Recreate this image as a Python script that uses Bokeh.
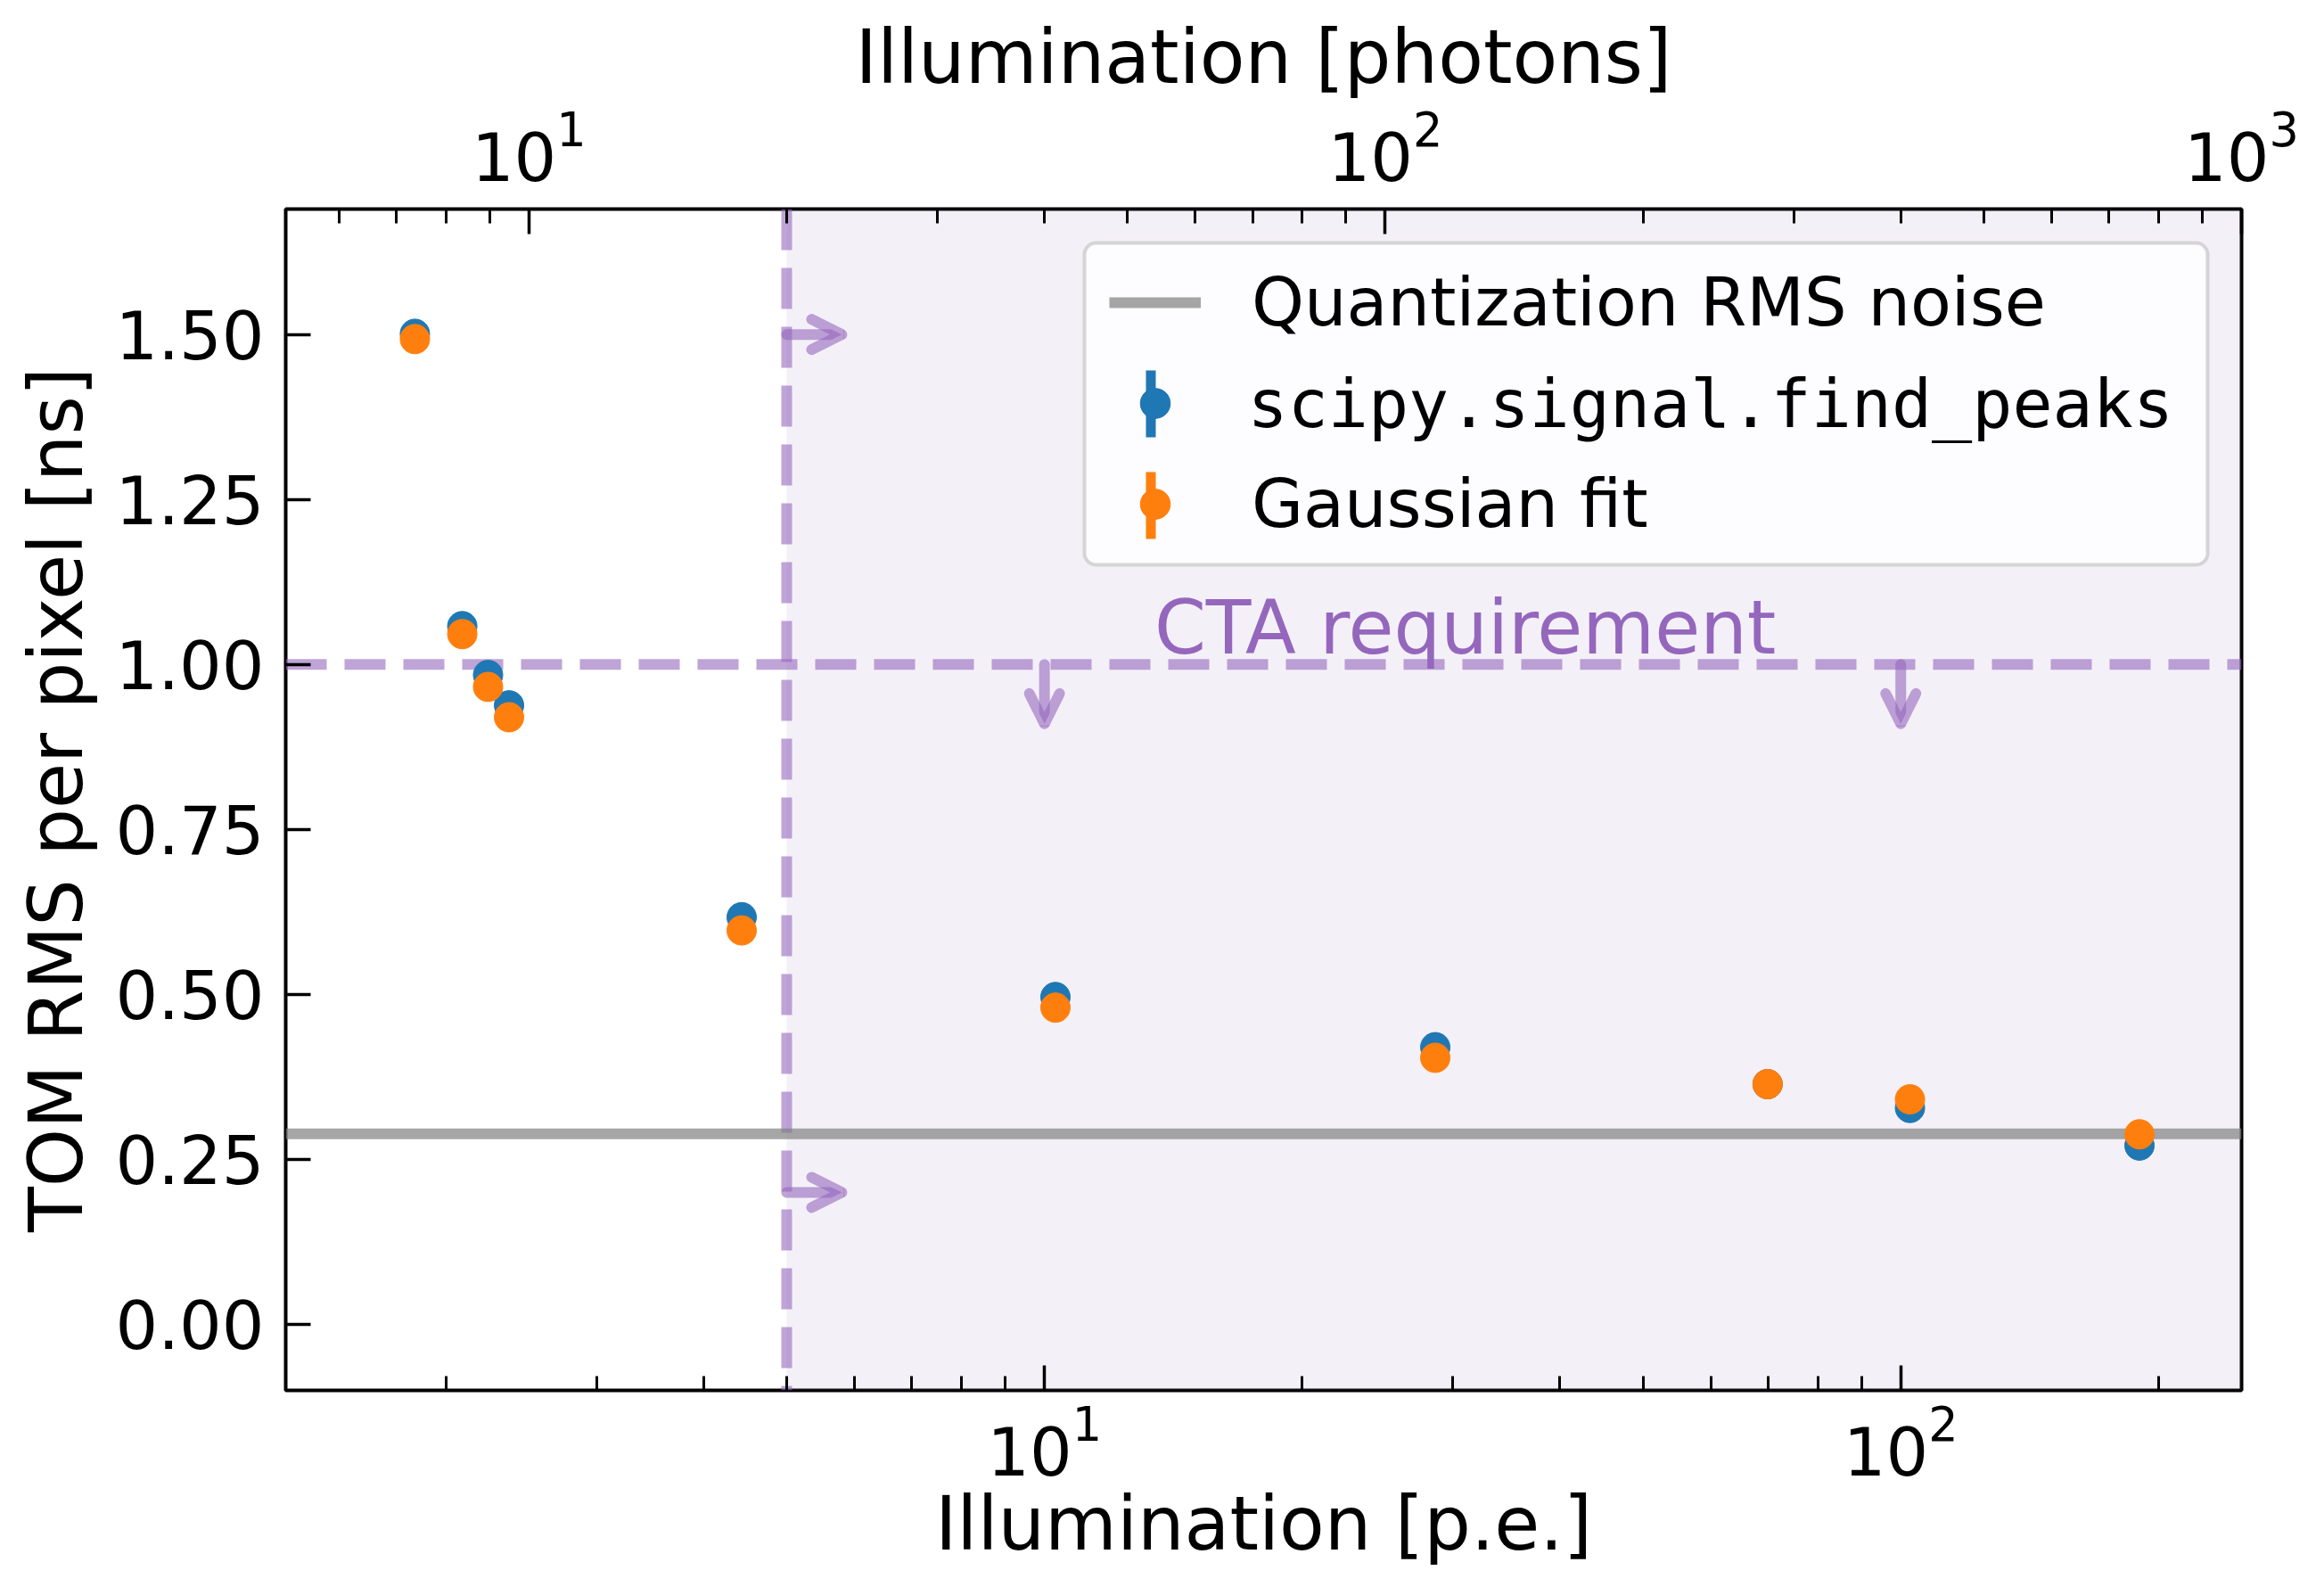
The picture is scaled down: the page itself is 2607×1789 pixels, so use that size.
import numpy as np
from bokeh.plotting import figure
from bokeh.models import (Range1d, LogScale, LogAxis, FixedTicker, NumeralTickFormatter,
                          Span, BoxAnnotation, Label, Arrow, OpenHead, Legend, LegendItem)
from bokeh.embed import file_html
from bokeh.resources import INLINE

# ---------------- data ----------------
illumination_pe = [1.84, 2.09, 2.24, 2.37, 4.43, 10.3, 28.6, 69.9, 102.5, 190.0]
rms_find_peaks = [1.501, 1.058, 0.984, 0.938, 0.617, 0.496, 0.420, 0.364, 0.328, 0.271]
rms_gauss_fit = [1.493, 1.046, 0.966, 0.920, 0.597, 0.480, 0.404, 0.364, 0.341, 0.288]
quantization_noise = 1.0 / np.sqrt(12.0)
cta_requirement = 1.0
pe_threshold = 5.0
photons_per_pe = 4.0

x_lo, x_hi = 1.3, 250.0
y_lo, y_hi = -0.1, 1.69
y_ticks = [0.0, 0.25, 0.5, 0.75, 1.0, 1.25, 1.5]
pe_major = [10, 100]
pe_minor = [2, 3, 4, 5, 6, 7, 8, 9, 20, 30, 40, 50, 60, 70, 80, 90, 200]
ph_major = [10, 100, 1000]
ph_minor = [6, 7, 8, 9, 20, 30, 40, 50, 60, 70, 80, 90, 200, 300, 400, 500, 600, 700, 800, 900]

# arrows / annotations (data positions)
right_arrow_y = [1.5, 0.2]
right_arrow_end = 5.8
down_arrow_x = [10.0, 100.0]
down_arrow_end = 0.91
cta_text_x, cta_text_y = 31.0, 1.055

BLUE = "#1f77b4"
ORANGE = "#ff7f0e"
PURPLE = "#9467bd"

# ---------------- layout ----------------
W, H = 2591, 1773
FL, FR, FT, FB = 320, 77, 234, 214
frame_w = W - FL - FR
frame_h = H - FT - FB

p = figure(width=W, height=H, x_axis_type="log",
           x_range=Range1d(x_lo, x_hi), y_range=Range1d(y_lo, y_hi),
           output_backend="svg", toolbar_location=None,
           min_border_left=FL, min_border_right=FR, min_border_top=FT, min_border_bottom=FB)
p.grid.visible = False
p.outline_line_color = "black"
p.outline_line_width = 4
p.outline_line_alpha = 1.0
p.background_fill_color = "white"
p.border_fill_color = "white"

p.extra_x_ranges = {"ph": Range1d(x_lo * photons_per_pe, x_hi * photons_per_pe)}
p.extra_x_scales = {"ph": LogScale()}
top_axis = LogAxis(x_range_name="ph", axis_label="Illumination [photons]")
p.add_layout(top_axis, "above")

bottom_axis = p.below[0]
bottom_axis.axis_label = "Illumination [p.e.]"
bottom_axis.ticker = FixedTicker(ticks=pe_major, minor_ticks=pe_minor)
top_axis.ticker = FixedTicker(ticks=ph_major, minor_ticks=ph_minor)

left_axis = p.left[0]
left_axis.axis_label = "TOM RMS per pixel [ns]"
left_axis.ticker = FixedTicker(ticks=y_ticks, minor_ticks=[])
left_axis.formatter = NumeralTickFormatter(format="0.00")


def style(ax):
    ax.axis_line_color = None
    ax.major_tick_in = 28
    ax.major_tick_out = 0
    ax.minor_tick_in = 16
    ax.minor_tick_out = 0
    ax.major_tick_line_width = 3.5
    ax.minor_tick_line_width = 3
    ax.major_tick_line_color = "black"
    ax.minor_tick_line_color = "black"
    ax.major_label_text_font = "DejaVu Sans"
    ax.major_label_text_font_size = "75px"
    ax.major_label_text_color = "black"
    ax.axis_label_text_font = "DejaVu Sans"
    ax.axis_label_text_font_size = "83px"
    ax.axis_label_text_font_style = "normal"
    ax.axis_label_text_color = "black"


for ax in (bottom_axis, top_axis, left_axis):
    style(ax)

bottom_axis.major_label_standoff = 14
bottom_axis.axis_label_standoff = 3
top_axis.major_label_standoff = 32
top_axis.axis_label_standoff = 6
left_axis.major_label_standoff = 24
left_axis.axis_label_standoff = 15

# ---------------- background annotations ----------------
shade = BoxAnnotation(left=pe_threshold, fill_color=PURPLE, fill_alpha=0.1,
                      line_alpha=0, level="underlay")
p.add_layout(shade)
p.add_layout(Span(location=pe_threshold, dimension="height", line_color=PURPLE,
                  line_alpha=0.6, line_width=12, line_dash="46 20", level="underlay"))
p.add_layout(Span(location=cta_requirement, dimension="width", line_color=PURPLE,
                  line_alpha=0.6, line_width=12, line_dash="46 20", level="underlay"))

qline = p.line(x=[x_lo, x_hi], y=[quantization_noise, quantization_noise],
               line_color="gray", line_alpha=0.7, line_width=12)

blue = p.scatter(illumination_pe, rms_find_peaks, size=33, color=BLUE)
orange = p.scatter(illumination_pe, rms_gauss_fit, size=33, color=ORANGE)

for ya in right_arrow_y:
    p.add_layout(Arrow(x_start=pe_threshold, y_start=ya, x_end=right_arrow_end, y_end=ya,
                       line_color=PURPLE, line_alpha=0.6, line_width=12, line_cap="round",
                       end=OpenHead(size=34, line_color=PURPLE, line_alpha=0.6,
                                    line_width=12, line_cap="round")))
for xa in down_arrow_x:
    p.add_layout(Arrow(x_start=xa, y_start=cta_requirement, x_end=xa, y_end=down_arrow_end,
                       line_color=PURPLE, line_alpha=0.6, line_width=12, line_cap="round",
                       end=OpenHead(size=34, line_color=PURPLE, line_alpha=0.6,
                                    line_width=12, line_cap="round")))

p.add_layout(Label(x=cta_text_x, y=cta_text_y, text="CTA requirement", text_align="center",
                   text_baseline="alphabetic", text_color=PURPLE, text_font="DejaVu Sans",
                   text_font_size="83px"))

# ---------------- legend ----------------
margin, pad, spacing = 38, 23, 27
gw, gh, lw, standoff = 103, 84, 1049, 57
row_h = 87
leg_w = 1260
leg_h = 2 * pad + 3 * row_h + 2 * spacing
leg_left = frame_w - margin - leg_w

# legend frame (drawn underneath the transparent legend)
p.add_layout(BoxAnnotation(left=leg_left, right=leg_left + leg_w,
                           top=frame_h - margin, bottom=frame_h - margin - leg_h,
                           left_units="screen", right_units="screen",
                           bottom_units="screen", top_units="screen",
                           fill_color="white", fill_alpha=0.8,
                           line_color="#cccccc", line_alpha=0.8, line_width=4,
                           border_radius=13, level="annotation"))

leg = Legend(items=[LegendItem(label="Quantization RMS noise", renderers=[qline]),
                    LegendItem(label=" ", renderers=[blue]),
                    LegendItem(label="Gaussian fit", renderers=[orange])],
             location="top_right", margin=margin, padding=pad, spacing=spacing,
             glyph_width=gw, glyph_height=gh, label_height=gh, label_width=lw,
             label_standoff=standoff, label_text_font="DejaVu Sans",
             label_text_font_size="75px", label_text_color="black",
             border_line_alpha=0, background_fill_alpha=0)
p.add_layout(leg, "center")

text_x = leg_left + pad + gw + standoff
glyph_cx = leg_left + pad + gw / 2
row_c = [margin + pad + row_h / 2 + i * (row_h + spacing) for i in range(3)]

p.add_layout(Label(x=text_x, y=frame_h - row_c[1], x_units="screen", y_units="screen",
                   text="scipy.signal.find_peaks", text_font="DejaVu Sans Mono",
                   text_font_size="75px", text_color="black", text_baseline="middle",
                   text_align="left", level="overlay"))
for rc, col in ((row_c[1], BLUE), (row_c[2], ORANGE)):
    p.add_layout(BoxAnnotation(left=glyph_cx - 5.5, right=glyph_cx + 5.5,
                               bottom=frame_h - rc - 37.5, top=frame_h - rc + 37.5,
                               left_units="screen", right_units="screen",
                               bottom_units="screen", top_units="screen",
                               fill_color=col, fill_alpha=1.0, line_alpha=0,
                               level="overlay"))

open("out.html", "w").write(file_html(p, INLINE))
